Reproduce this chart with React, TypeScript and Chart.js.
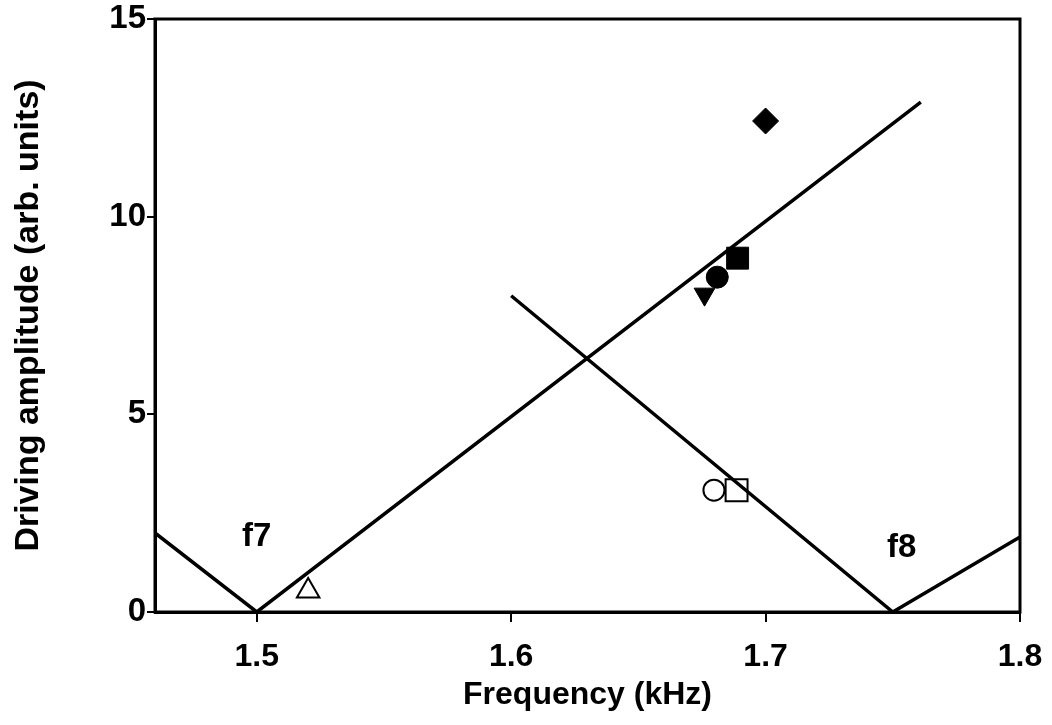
import React, { useEffect, useRef } from 'react';
import { Chart, registerables } from 'chart.js';

Chart.register(...registerables);

// ---- data ----
const xTickValues = [1.5, 1.6, 1.7, 1.8];
const yTickValues = [0, 5, 10, 15];

const f7LineX = [1.46, 1.5, 1.761];
const f7LineY = [2.0, 0.0, 12.9];
const f8LineX = [1.6, 1.75, 1.8];
const f8LineY = [8.0, 0.0, 1.9];

const pointNames = ['filled diamond', 'filled square', 'filled circle', 'filled down triangle', 'open circle', 'open square', 'open triangle'];
const pointX = [1.7, 1.689, 1.681, 1.676, 1.6797, 1.6886, 1.5202];
const pointY = [12.42, 8.95, 8.47, 8.04, 3.08, 3.08, 0.53];

const labelTexts = ['f7', 'f8'];
const labelX = [1.5, 1.7535];
const labelY = [1.9, 1.62];

// ---- marker styles (presentation only) ----
const markerShape = ['rectRot', 'rect', 'circle', 'triangle', 'circle', 'rect', 'triangle'];
const markerFilled = [true, true, true, true, false, false, false];
const markerRotation = [0, 0, 0, 180, 0, 0, 0];
const markerRadius = [13, 15.5, 11, 12, 10.5, 15.5, 13];

const FONT = '"Liberation Sans", Arial, Helvetica, sans-serif';

export default function App() {
  const ref = useRef<HTMLCanvasElement | null>(null);

  useEffect(() => {
    if (!ref.current) return;

    const framePlugin = {
      id: 'frame',
      afterDatasetsDraw(chart: any) {
        const { ctx, chartArea } = chart;
        ctx.save();
        ctx.strokeStyle = '#000';
        ctx.lineWidth = 3;
        ctx.strokeRect(chartArea.left, chartArea.top, chartArea.right - chartArea.left, chartArea.bottom - chartArea.top);
        ctx.restore();
      },
    };

    const textPlugin = {
      id: 'curveLabels',
      afterDatasetsDraw(chart: any) {
        const { ctx, scales } = chart;
        ctx.save();
        ctx.fillStyle = '#000';
        ctx.font = `bold 33px ${FONT}`;
        ctx.textAlign = 'center';
        ctx.textBaseline = 'middle';
        labelTexts.forEach((t, i) => {
          ctx.fillText(t, scales.x.getPixelForValue(labelX[i]), scales.y.getPixelForValue(labelY[i]));
        });
        ctx.restore();
      },
    };

    const chart = new Chart(ref.current, {
      type: 'scatter',
      data: {
        datasets: [
          {
            label: 'f7',
            type: 'line',
            data: f7LineX.map((x, i) => ({ x, y: f7LineY[i] })),
            borderColor: '#000',
            borderWidth: 3.5,
            pointRadius: 0,
            fill: false,
            tension: 0,
          } as any,
          {
            label: 'f8',
            type: 'line',
            data: f8LineX.map((x, i) => ({ x, y: f8LineY[i] })),
            borderColor: '#000',
            borderWidth: 3.5,
            pointRadius: 0,
            fill: false,
            tension: 0,
          } as any,
          {
            label: 'measurements',
            data: pointX.map((x, i) => ({ x, y: pointY[i], name: pointNames[i] })),
            showLine: false,
            pointStyle: markerShape as any,
            pointRotation: markerRotation,
            pointRadius: markerRadius,
            pointBackgroundColor: markerFilled.map((f) => (f ? '#000' : '#fff')),
            pointBorderColor: '#000',
            pointBorderWidth: markerFilled.map((f) => (f ? 1 : 2)),
          } as any,
        ],
      },
      options: {
        animation: false,
        responsive: false,
        maintainAspectRatio: false,
        layout: { padding: { top: 19, right: 32, left: 0, bottom: 0 } },
        plugins: {
          legend: { display: false },
          tooltip: { enabled: false },
        },
        scales: {
          x: {
            type: 'linear',
            min: 1.46,
            max: 1.8,
            afterBuildTicks: (s: any) => {
              s.ticks = xTickValues.map((v) => ({ value: v }));
            },
            afterFit: (s: any) => {
              s.height = 113;
              s.paddingLeft = 0;
              s.paddingRight = 0;
            },
            ticks: {
              color: '#000',
              font: { family: FONT, size: 32, weight: 'bold' },
              padding: 16,
              maxRotation: 0,
              callback: (v: any) => Number(v).toFixed(1),
            },
            grid: { display: true, drawOnChartArea: false, drawTicks: true, tickLength: 10, color: '#000', lineWidth: 2 },
            border: { display: true, color: '#000', width: 3 },
            title: {
              display: true,
              text: 'Frequency (kHz)',
              color: '#000',
              font: { family: FONT, size: 32, weight: 'bold' },
              padding: { top: 0, bottom: 11 },
            },
          },
          y: {
            type: 'linear',
            min: 0,
            max: 15,
            afterBuildTicks: (s: any) => {
              s.ticks = yTickValues.map((v) => ({ value: v }));
            },
            afterFit: (s: any) => {
              s.width = 155;
              s.paddingTop = 0;
              s.paddingBottom = 0;
            },
            ticks: {
              color: '#000',
              font: { family: FONT, size: 33, weight: 'bold' },
              padding: 1,
              callback: (v: any) => String(v),
            },
            grid: { display: true, drawOnChartArea: false, drawTicks: true, tickLength: 8, color: '#000', lineWidth: 2 },
            border: { display: true, color: '#000', width: 3 },
            title: {
              display: true,
              text: 'Driving amplitude (arb. units)',
              color: '#000',
              font: { family: FONT, size: 34, weight: 'bold' },
              padding: { top: 8, bottom: 0 },
            },
          },
        },
      },
      plugins: [framePlugin, textPlugin],
    });

    return () => chart.destroy();
  }, []);

  return (
    <div style={{ position: 'absolute', left: 0, top: 0, width: 1052, height: 725, background: '#fff' }}>
      <canvas ref={ref} width={1052} height={725} style={{ display: 'block', width: 1052, height: 725 }} />
    </div>
  );
}
